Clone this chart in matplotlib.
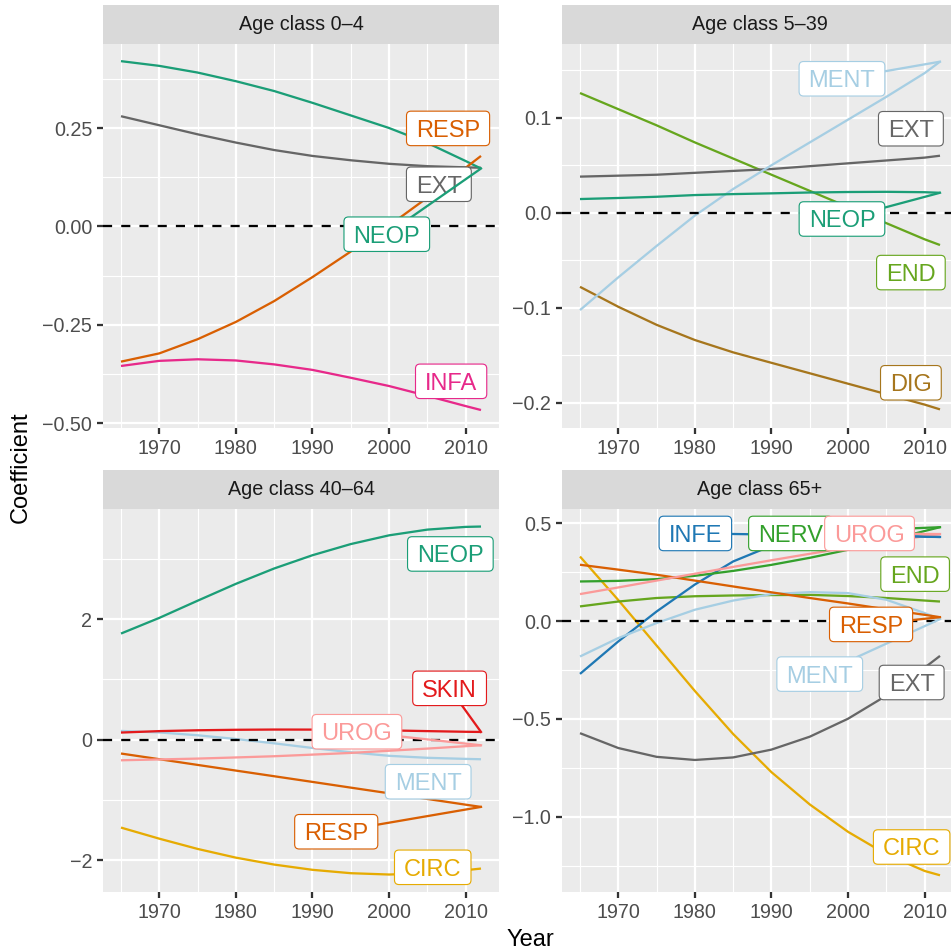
import matplotlib
matplotlib.use("Agg")
import matplotlib.pyplot as plt
from matplotlib.patches import FancyBboxPatch
from matplotlib.lines import Line2D
from matplotlib.transforms import IdentityTransform

plt.rcParams['font.family'] = ['Liberation Sans', 'DejaVu Sans']

# ---------------- data ----------------
years = [1965, 1970, 1975, 1980, 1985, 1990, 1995, 2000, 2005, 2010, 2012]

# Age class 0-4
a04_EXT = [0.280, 0.257, 0.234, 0.213, 0.194, 0.179, 0.168, 0.159, 0.153, 0.150, 0.149]
a04_INFA = [-0.355, -0.342, -0.338, -0.341, -0.351, -0.365, -0.385, -0.406, -0.431, -0.457, -0.467]
a04_NEOP = [0.420, 0.408, 0.391, 0.369, 0.344, 0.314, 0.282, 0.250, 0.212, 0.166, 0.147]
a04_RESP = [-0.344, -0.323, -0.287, -0.243, -0.190, -0.129, -0.064, 0.002, 0.073, 0.149, 0.179]

# Age class 5-39
a539_DIG = [-0.078, -0.099, -0.118, -0.134, -0.147, -0.158, -0.169, -0.180, -0.191, -0.202, -0.207]
a539_END = [0.126, 0.109, 0.092, 0.074, 0.057, 0.040, 0.023, 0.006, -0.011, -0.028, -0.034]
a539_EXT = [0.038, 0.039, 0.040, 0.042, 0.044, 0.046, 0.049, 0.052, 0.055, 0.058, 0.060]
a539_MENT = [-0.1025, -0.068, -0.035, -0.003, 0.025, 0.050, 0.074, 0.098, 0.122, 0.147, 0.159]
a539_NEOP = [0.0144, 0.0155, 0.0168, 0.0186, 0.0196, 0.0204, 0.0213, 0.0218, 0.0220, 0.0216, 0.021]

# Age class 40-64
a4064_CIRC = [-1.461, -1.645, -1.815, -1.960, -2.075, -2.162, -2.218, -2.240, -2.220, -2.168, -2.141]
a4064_MENT = [0.143, 0.118, 0.071, 0.009, -0.063, -0.140, -0.212, -0.270, -0.303, -0.321, -0.327]
a4064_NEOP = [1.759, 2.019, 2.304, 2.584, 2.839, 3.059, 3.244, 3.389, 3.484, 3.529, 3.535]
a4064_RESP = [-0.232, -0.326, -0.421, -0.515, -0.609, -0.703, -0.798, -0.892, -0.986, -1.081, -1.118]
a4064_SKIN = [0.116, 0.140, 0.154, 0.162, 0.166, 0.165, 0.160, 0.152, 0.140, 0.129, 0.126]
a4064_UROG = [-0.344, -0.330, -0.316, -0.297, -0.277, -0.250, -0.222, -0.186, -0.150, -0.110, -0.095]

# Age class 65+
a65_CIRC = [0.330, 0.1075, -0.125, -0.3575, -0.5775, -0.7725, -0.9375, -1.0775, -1.1925, -1.2775, -1.2995]
a65_END = [0.075, 0.100, 0.118, 0.127, 0.131, 0.133, 0.134, 0.128, 0.118, 0.105, 0.100]
a65_EXT = [-0.573, -0.649, -0.694, -0.710, -0.697, -0.657, -0.591, -0.499, -0.381, -0.238, -0.178]
a65_INFE = [-0.270, -0.104, 0.049, 0.187, 0.305, 0.385, 0.420, 0.432, 0.435, 0.432, 0.430]
a65_MENT = [-0.181, -0.087, -0.010, 0.058, 0.105, 0.138, 0.148, 0.143, 0.109, 0.041, 0.010]
a65_NERV = [0.2025, 0.2055, 0.2145, 0.2315, 0.2565, 0.2875, 0.3235, 0.3645, 0.4105, 0.4605, 0.480]
a65_RESP = [0.288, 0.263, 0.237, 0.207, 0.177, 0.147, 0.118, 0.090, 0.060, 0.032, 0.020]
a65_UROG = [0.138, 0.172, 0.207, 0.242, 0.277, 0.311, 0.344, 0.376, 0.406, 0.434, 0.445]

colors = {
    'CIRC': '#E6AB02', 'DIG': '#A6761D', 'END': '#66A61E', 'EXT': '#666666',
    'INFA': '#E7298A', 'INFE': '#1F78B4', 'MENT': '#A6CEE3', 'NEOP': '#1B9E77',
    'NERV': '#33A02C', 'RESP': '#D95F02', 'SKIN': '#E31A1C', 'UROG': '#FB9A99',
}

panels = [
    ("Age class 0\u20134", {'EXT': a04_EXT, 'INFA': a04_INFA, 'NEOP': a04_NEOP, 'RESP': a04_RESP}),
    ("Age class 5\u201339", {'DIG': a539_DIG, 'END': a539_END, 'EXT': a539_EXT,
                             'MENT': a539_MENT, 'NEOP': a539_NEOP}),
    ("Age class 40\u201364", {'CIRC': a4064_CIRC, 'MENT': a4064_MENT, 'NEOP': a4064_NEOP,
                              'RESP': a4064_RESP, 'SKIN': a4064_SKIN, 'UROG': a4064_UROG}),
    ("Age class 65+", {'CIRC': a65_CIRC, 'END': a65_END, 'EXT': a65_EXT, 'INFE': a65_INFE,
                       'MENT': a65_MENT, 'NERV': a65_NERV, 'RESP': a65_RESP, 'UROG': a65_UROG}),
]

# ---------------- layout (label positions, axes, ticks) ----------------
label_pos = [
    {'EXT': (2006.5, 0.107), 'INFA': (2008.1, -0.394), 'NEOP': (1999.7, -0.020), 'RESP': (2007.7, 0.249)},
    {'DIG': (2008.2, -0.179), 'END': (2008.2, -0.063), 'EXT': (2008.2, 0.0884),
     'MENT': (1999.2, 0.141), 'NEOP': (1999.2, -0.0066)},
    {'CIRC': (2005.7, -2.12), 'MENT': (2005.1, -0.70), 'NEOP': (2008.0, 3.08),
     'RESP': (1993.1, -1.53), 'SKIN': (2007.9, 0.85), 'UROG': (1995.8, 0.13)},
    {'CIRC': (2008.3, -1.155), 'END': (2008.75, 0.240), 'EXT': (2008.3, -0.314),
     'INFE': (1980.06, 0.448), 'MENT': (1996.3, -0.271), 'NERV': (1992.5, 0.448),
     'RESP': (2003.0, -0.017), 'UROG': (2002.8, 0.448)},
]

ylims = [(-0.5127, 0.4636), (-0.2266, 0.1776), (-2.53, 3.826), (-1.385, 0.573)]
yticks = [[-0.5, -0.25, 0.0, 0.25], [-0.2, -0.1, 0.0, 0.1], [-2, 0, 2], [-1.0, -0.5, 0.0, 0.5]]
ytlabels = [["\u22120.50", "\u22120.25", "0.00", "0.25"], ["\u22120.2", "\u22120.1", "0.0", "0.1"],
            ["\u22122", "0", "2"], ["\u22121.0", "\u22120.5", "0.0", "0.5"]]
yminor = [[-0.375, -0.125, 0.125, 0.375], [-0.15, -0.05, 0.05, 0.15], [-1, 1, 3],
          [-1.25, -0.75, -0.25, 0.25]]
xticks = [1970, 1980, 1990, 2000, 2010]
xminor = [1965, 1975, 1985, 1995, 2005]
xlim = (1962.65, 2014.35)

W = H = 951.0
# (left, top, right, bottom) in pixels for panel areas
boxes = [(103, 44, 499, 428), (562, 44, 958, 428), (103, 509, 499, 892), (562, 509, 958, 892)]
strip_h = 39

fig = plt.figure(figsize=(9.51, 9.51), dpi=100)
fig.patch.set_facecolor('white')

LW = 1.64
TXT = 14.2
LBL = 17

axes = []
for i, (title, series) in enumerate(panels):
    l, t, r, b = boxes[i]
    ax = fig.add_axes([l / W, 1 - b / H, (r - l) / W, (b - t) / H])
    axes.append(ax)
    ax.set_facecolor('#EBEBEB')
    for s in ax.spines.values():
        s.set_visible(False)
    ax.set_xlim(*xlim)
    ax.set_ylim(*ylims[i])
    ax.set_xticks(xticks)
    ax.set_xticklabels([str(x) for x in xticks])
    ax.set_xticks(xminor, minor=True)
    ax.set_yticks(yticks[i])
    ax.set_yticklabels(ytlabels[i])
    ax.set_yticks(yminor[i], minor=True)
    ax.tick_params(which='major', length=4.2, width=LW, color='#333333', labelsize=TXT,
                   labelcolor='#4D4D4D', pad=3.5)
    ax.tick_params(which='minor', length=0)
    ax.grid(which='major', color='white', lw=LW)
    ax.grid(which='minor', color='white', lw=LW / 2)
    ax.set_axisbelow(True)

    # strip
    sax = fig.add_axes([l / W, 1 - t / H, (r - l) / W, strip_h / H])
    sax.set_facecolor('#D9D9D9')
    sax.set_xticks([]); sax.set_yticks([])
    for s in sax.spines.values():
        s.set_visible(False)
    sax.text(0.5, 0.5, title, ha='center', va='center', fontsize=TXT, color='#1A1A1A',
             transform=sax.transAxes)

    for name, vals in series.items():
        ax.plot(years, vals, color=colors[name], lw=LW, solid_capstyle='butt',
                solid_joinstyle='round', zorder=2)
    ax.axhline(0, color='black', lw=LW, ls=(0, (4, 4)), zorder=3)

fig.text(21 / W, 1 - 467.5 / H, "Coefficient", rotation=90, ha='center', va='center',
         fontsize=LBL, color='black')
fig.text(530 / W, 1 - 946 / H, "Year", ha='center', va='baseline', fontsize=LBL, color='black')

# ---------------- repel-style labels ----------------
fig.canvas.draw()
renderer = fig.canvas.get_renderer()
ident = IdentityTransform()
px_per_pt = fig.dpi / 72.0
cap = 0.716 * LBL * px_per_pt
padx = 9.5
boxh = 34.5
min_seg = 12.5

for i, (title, series) in enumerate(panels):
    ax = axes[i]
    z = 5
    for name, vals in series.items():
        c = colors[name]
        lx, ly = label_pos[i][name]
        cx, cy = ax.transData.transform((lx, ly))
        t = ax.text(cx, cy - cap / 2, name, transform=ident, ha='center', va='baseline',
                    fontsize=LBL, color=c, zorder=z + 0.2, clip_on=False)
        w = t.get_window_extent(renderer).width
        bw = w + 2 * padx
        x0, x1 = cx - bw / 2, cx + bw / 2
        y0, y1 = cy - boxh / 2, cy + boxh / 2
        patch = FancyBboxPatch((x0, y0), bw, boxh,
                               boxstyle='round,pad=0,rounding_size=4.5', transform=ident,
                               fc='white', ec=c, lw=0.82, zorder=z + 0.1, clip_on=False)
        ax.add_artist(patch)
        # segment from last data point to the box edge (towards the box centre)
        px, py = ax.transData.transform((years[-1], vals[-1]))
        nx, ny = min(max(px, x0), x1), min(max(py, y0), y1)
        dnear = ((px - nx) ** 2 + (py - ny) ** 2) ** 0.5
        if dnear > min_seg:
            dx, dy = px - cx, py - cy
            tx = (bw / 2) / abs(dx) if dx != 0 else float('inf')
            ty = (boxh / 2) / abs(dy) if dy != 0 else float('inf')
            tt = min(tx, ty)
            ex, ey = cx + dx * tt, cy + dy * tt
            ln = Line2D([ex, px], [ey, py], transform=ident, color=c, lw=LW,
                        zorder=z, clip_on=False)
            ax.add_artist(ln)
        z += 1

fig.savefig("out.png", dpi=100, facecolor='white')
